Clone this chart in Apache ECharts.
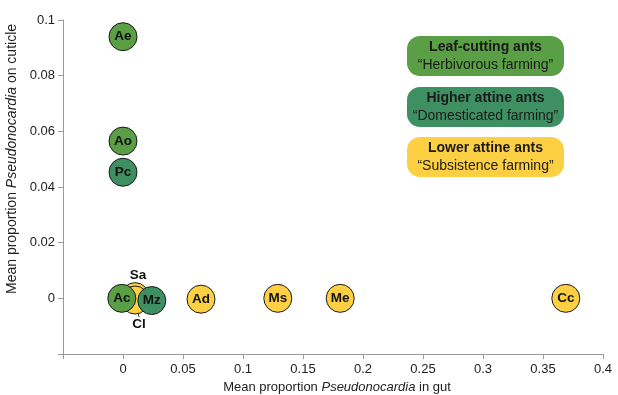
<!DOCTYPE html>
<html><head><meta charset="utf-8">
<script src="https://cdn.jsdelivr.net/npm/echarts@6/dist/echarts.min.js"></script>
<style>html,body{margin:0;padding:0;background:#fff}#c{width:618px;height:395px}</style>
</head><body><div id="c"></div>
<script>
// Data
const leafCutting = [ ['Ae', 0, 0.094], ['Ao', 0, 0.0565], ['Ac', -0.001, 0] ];
const higherAttine = [ ['Pc', 0, 0.0453], ['Mz', 0.024, -0.0008] ];
const lowerAttine = [ ['Sa', 0.01, 0.0006], ['Cl', 0.01, -0.0006], ['Ad', 0.065, -0.0003], ['Ms', 0.129, 0], ['Me', 0.181, 0], ['Cc', 0.369, 0] ];
const legendTitles = ['Leaf-cutting ants', 'Higher attine ants', 'Lower attine ants'];
const legendSubs = ['\u201cHerbivorous farming\u201d', '\u201cDomesticated farming\u201d', '\u201cSubsistence farming\u201d'];

const FONT = '"Liberation Sans", Arial, sans-serif';
const COLORS = ['#5a9e45', '#3e9063', '#fdd044'];
const chart = echarts.init(document.getElementById('c'), null, {renderer: 'canvas'});

function mk(arr, color, z) {
  return {
    type: 'scatter', symbolSize: 28, z: z,
    itemStyle: {color: color, borderColor: '#1a1a1a', borderWidth: 1, opacity: 1},
    label: {show: true, position: 'inside', formatter: p => p.value[2], fontFamily: FONT, fontWeight: 'bold', fontSize: 13.5, color: '#111'},
    labelLine: {show: true, lineStyle: {color: '#333', width: 1}},
    labelLayout: function (p) {
      if (p.text === 'Sa') return {dx: 3, dy: -21};
      if (p.text === 'Cl') return {dx: 4, dy: 24};
      return {};
    },
    data: arr.map(d => ({value: [d[1], d[2], d[0]]}))
  };
}

const boxes = [];
const boxTop = [36, 87, 137];
for (let i = 0; i < 3; i++) {
  boxes.push({type: 'rect', shape: {x: 407, y: boxTop[i], width: 157, height: 40, r: 13}, style: {fill: COLORS[i]}, z: 10});
  boxes.push({type: 'text', x: 485.5, y: boxTop[i] + 11, z: 11,
    style: {text: legendTitles[i], align: 'center', verticalAlign: 'middle', font: 'bold 14px ' + FONT, fill: '#1a1a1a'}});
  boxes.push({type: 'text', x: 485.5, y: boxTop[i] + 29, z: 11,
    style: {text: legendSubs[i], align: 'center', verticalAlign: 'middle', font: '14px ' + FONT, fill: '#1a1a1a'}});
}

const axisCommon = {
  axisLine: {show: true, onZero: false, lineStyle: {color: '#999', width: 1}},
  axisTick: {show: true, length: 5, lineStyle: {color: '#999'}},
  splitLine: {show: false},
  axisLabel: {color: '#222', fontFamily: FONT, fontSize: 13, formatter: v => v < -1e-9 ? '' : String(+v.toFixed(3))}
};
function rich(sz) {
  return {n: {fontSize: sz, color: '#222', fontFamily: FONT}, i: {fontSize: sz, color: '#222', fontStyle: 'italic', fontFamily: FONT}};
}

chart.setOption({
  animation: false,
  textStyle: {fontFamily: FONT},
  grid: {left: 63, right: 15, top: 20, bottom: 41, containLabel: false, outerBoundsMode: 'none'},
  xAxis: Object.assign({}, axisCommon, {type: 'value', min: -0.05, max: 0.4, interval: 0.05,
    name: '{n|Mean proportion }{i|Pseudonocardia}{n| in gut}', nameLocation: 'middle', nameGap: 23,
    nameTextStyle: {rich: rich(13), padding: [0, 0, 0, 8]},
    axisLabel: Object.assign({}, axisCommon.axisLabel, {margin: 9})}),
  yAxis: Object.assign({}, axisCommon, {type: 'value', min: -0.02, max: 0.1, interval: 0.02,
    name: '{n|Mean proportion }{i|Pseudonocardia}{n| on cuticle}', nameLocation: 'middle', nameGap: 34,
    nameTextStyle: {rich: rich(14), padding: [0, 0, 0, 56]},
    axisLabel: Object.assign({}, axisCommon.axisLabel, {margin: 8})}),
  series: [mk(lowerAttine, COLORS[2], 2), mk(leafCutting, COLORS[0], 3), mk(higherAttine, COLORS[1], 4)],
  graphic: boxes
});
</script></body></html>
